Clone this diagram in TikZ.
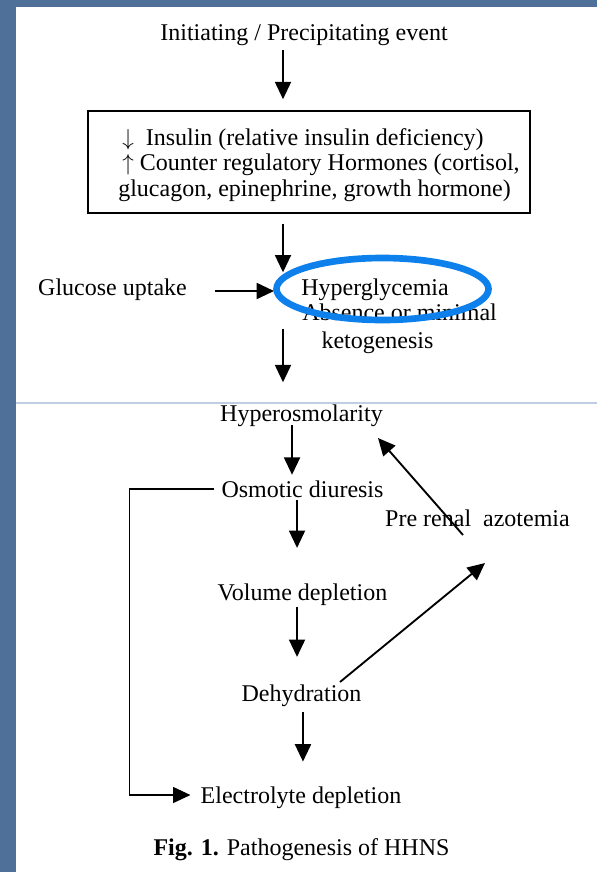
\documentclass[tikz,border=0pt]{standalone}
\usepackage{fontspec}
\setmainfont{Liberation Serif}
\usetikzlibrary{arrows.meta,positioning}
\definecolor{slideblue}{RGB}{79,113,153}
\definecolor{ringblue}{RGB}{14,128,236}
\definecolor{seamblue}{RGB}{192,206,228}

\begin{document}
\begin{tikzpicture}[x=0.75pt,y=-0.75pt,>={Triangle[width=12pt,length=13pt]},
  txt/.style={inner sep=0pt,text height=14.25pt,text depth=1.5pt,font=\fontsize{18}{19}\selectfont},
  hormbox/.style={draw,line width=1.1pt,minimum width=331.5pt,minimum height=76.5pt,inner sep=0pt},
  hormtxt/.style={inner sep=0pt,align=left,font=\fontsize{18}{19.2}\selectfont},
  arr/.style={->,line width=1.4pt},
  link/.style={->,line width=0.8pt},
  ring/.style={draw=ringblue,line width=5pt}]
\fill[slideblue] (0,0) rectangle (597,872);
\fill[white] (15.5,7) rectangle (597,872);
\useasboundingbox (0,0) rectangle (597,872);
\draw[seamblue,line width=0.8pt] (15.5,403) -- (597,403);
\node[txt] (init) at (304,32) {Initiating / Precipitating event};
\node[hormbox] (horm) at (309,162) {};
\node[hormtxt,anchor=west] (hormlines) at (118,165) {\hspace*{3pt}$\downarrow$\ \ Insulin (relative insulin deficiency)\\
  \hspace*{3pt}$\uparrow$\ Counter regulatory Hormones (cortisol,\\ glucagon, epinephrine, growth hormone)};
\node[txt] (gluc) at (112.5,287) {Glucose uptake};
\node[txt,anchor=west] (hyper) at (301,287) {Hyperglycemia};
\node[txt,anchor=west] (absn) at (302,312) {Absence or minimal};
\node[txt] (keto) at (377.5,340) {ketogenesis};
\node[txt] (hosm) at (301.5,413) {Hyperosmolarity};
\node[txt] (osmo) at (302.5,489) {Osmotic diuresis};
\node[txt] (prer) at (477.5,518) {Pre renal\ \ azotemia};
\node[txt] (vol) at (302.5,592) {Volume depletion};
\node[txt] (dehy) at (301.5,693) {Dehydration};
\node[txt] (elec) at (301,795) {Electrolyte depletion};
\node[txt] (cap) at (301.5,847) {\textbf{Fig. 1.} Pathogenesis of HHNS};
\draw[ring] ([shift={(7.5,2)}]hyper.center) ellipse [x radius=106,y radius=31];
\coordinate (jn) at (283,291);
\draw[arr,shorten <=5.6pt,shorten >=8.3pt] (init.south -| jn) -- (horm.north -| jn);
\draw[arr,shorten <=7.5pt,shorten >=14pt] (horm.south -| jn) -- (jn);
\draw[arr,shorten <=21pt,shorten >=6.75pt] (gluc.east |- jn) -- (jn);
\draw[arr,shorten >=15pt] (keto.north -| jn) -- (hosm.north -| jn);
\draw[arr,shorten <=1pt,shorten >=2.6pt] ([xshift=-7.1pt]hosm.south) -- ([xshift=-7.1pt]hosm.south |- osmo.north);
\draw[arr,shorten <=0.5pt,shorten >=25pt] ([xshift=-4.1pt]osmo.south) -- ([xshift=-4.1pt]osmo.south |- vol.north);
\draw[arr,shorten <=3.4pt,shorten >=19pt] ([xshift=-4.1pt]vol.south) -- ([xshift=-4.1pt]vol.south |- dehy.north);
\draw[arr,shorten <=6.4pt,shorten >=17pt] ([xshift=1.1pt]dehy.south) -- ([xshift=1.1pt]dehy.south |- elec.north);
\draw[link,shorten <=5.25pt,shorten >=7.5pt] (osmo.west) -- ++(-92,0) |- (elec.west);
\draw[arr] ([shift={(-14.5,17)}]prer.center) -- ([shift={(76.5,25)}]hosm.center);
\draw[arr] ([shift={(38.5,-11)}]dehy.center) -- ([shift={(7.5,45)}]prer.center);
\end{tikzpicture}
\end{document}
